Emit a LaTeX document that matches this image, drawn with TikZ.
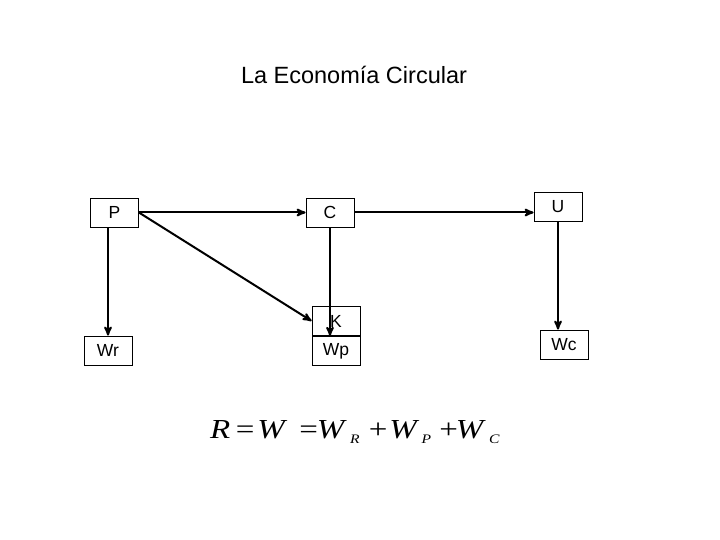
\documentclass[tikz,border=0pt]{standalone}
\usepackage{fontspec}
\setmainfont{Liberation Sans}
\newfontfamily\eqfont{Liberation Serif}
\usetikzlibrary{arrows,positioning}

\newcommand{\wsub}[1]{\raisebox{-5pt}{\fontsize{13}{13}\selectfont\textit{#1}}}

\begin{document}
\begin{tikzpicture}[x=1pt,y=-1pt,>=stealth',line width=2pt,
    box/.style={draw,line width=0.8pt,minimum width=48pt,minimum height=29pt,inner sep=0pt,font=\fontsize{17.5}{19}\selectfont}]

            \useasboundingbox (0,0) rectangle (720,540);

            \node[font=\fontsize{23.5}{26}\selectfont] (title) at (354,75) {La Economía Circular};

            \node[box] (P) at (114.5,212.5) {P};
            \node[box] (C) at (330,212.5) {C};
            \node[box] (U) at (558,207) {U};
            \node[box] (K) at (336,321) {K};
            \node[box] (Wp) [below=0pt of K] {Wp};
            \node[box] (Wr) at (108,350.5) {Wr};
            \node[box] (Wc) at (564,344.5) {Wc};

            % R = W = W_R + W_P + W_C
            \node[font=\eqfont\fontsize{27.5}{30}\selectfont,anchor=base west,inner sep=0pt] (eq) at (209,438)
                {\scalebox{1.2}[1]{\textit{R}\hspace{4.7pt}=\hspace{2.5pt}\textit{W}\hspace{9.9pt}=\hspace{-0.8pt}\textit{W}\hspace{2.6pt}\wsub{R}%
                 \hspace{7.7pt}+\hspace{1.7pt}\textit{W}\hspace{1.8pt}\wsub{P}\hspace{6.9pt}+\hspace{-1.7pt}\textit{W}\hspace{2.7pt}\wsub{C}}};

            \draw[->] (P.south -| Wr) -- (Wr.north);
            \draw[->] (P.east) -- (C.west);
            \draw[->] (P.east) -- (K.west);
            \draw[->] (C.east) -- (C.east -| U.west);
            \draw[->] (C.south) -- (C.south |- Wp.north);
            \draw[->] (U.south) -- (U.south |- Wc.north);

        \end{tikzpicture}
\end{document}
